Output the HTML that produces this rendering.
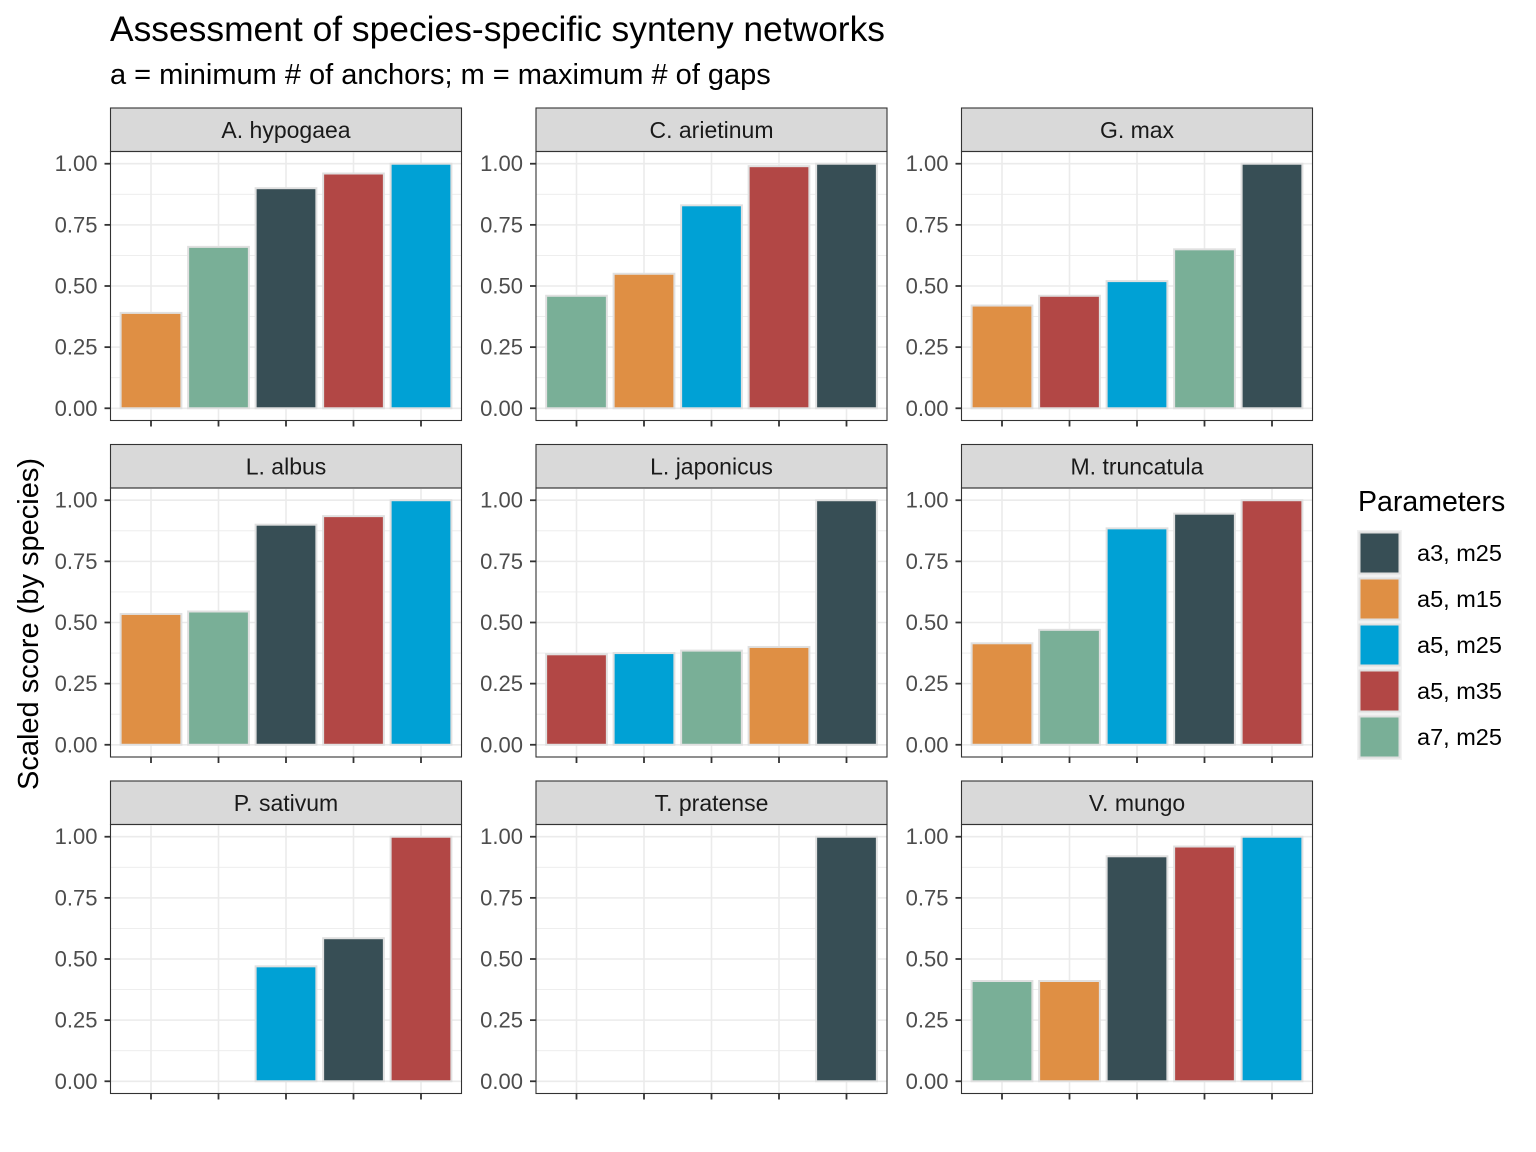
<!DOCTYPE html>
<html><head><meta charset="utf-8"><style>
html,body{margin:0;padding:0;background:#fff;}
svg{display:block;font-family:"Liberation Sans",Arial,sans-serif;}
</style></head><body>
<svg id="chart" width="1536" height="1152" xmlns="http://www.w3.org/2000/svg">
<text x="110" y="41" font-size="35.4px" fill="#000">Assessment of species-specific synteny networks</text>
<text x="110" y="84" font-size="29px" fill="#000">a = minimum # of anchors; m = maximum # of gaps</text>
<text transform="translate(38,624) rotate(-90)" text-anchor="middle" font-size="29px" fill="#000">Scaled score (by species)</text>
<g id="panels"></g>
<g id="legend"></g>
</svg>
<script>
const species = ["A. hypogaea","C. arietinum","G. max","L. albus","L. japonicus","M. truncatula","P. sativum","T. pratense","V. mungo"];
const paramNames = ["a3, m25","a5, m15","a5, m25","a5, m35","a7, m25"];
const paramColors = ["#374E55","#DF8F44","#00A1D5","#B24745","#79AF97"];
const barOrder = [
 [1,4,0,3,2],[4,1,2,3,0],[1,3,2,4,0],[1,4,0,3,2],[3,2,4,1,0],
 [1,4,2,0,3],[4,1,2,0,3],[4,1,2,3,0],[4,1,0,3,2]];
const barValues = [
 [0.39,0.66,0.90,0.96,1.00],
 [0.46,0.55,0.83,0.99,1.00],
 [0.42,0.46,0.52,0.65,1.00],
 [0.535,0.545,0.90,0.935,1.00],
 [0.37,0.375,0.385,0.40,1.00],
 [0.415,0.47,0.885,0.945,1.00],
 [0,0,0.47,0.585,1.00],
 [0,0,0,0,1.00],
 [0.41,0.41,0.92,0.96,1.00]];
const yTicks = [0,0.25,0.5,0.75,1];
const yTickLabels = ["0.00","0.25","0.50","0.75","1.00"];

const NS="http://www.w3.org/2000/svg";
function mk(tag,attrs,parent){const e=document.createElementNS(NS,tag);for(const k in attrs)e.setAttribute(k,attrs[k]);parent.appendChild(e);return e;}
const colX=[110.5,536,961.5], W=351;
const rowTop=[108,444.5,781], stripH=43.5, panelH=269;
const g=document.getElementById('panels');
species.forEach((sp,i)=>{
  const c=i%3,r=Math.floor(i/3);
  const x0=colX[c], sy=rowTop[r], py=sy+stripH;
  const y=v=>py+panelH-(v+0.05)/1.1*panelH;
  const xc=k=>x0+W*(0.6+k)/5.2;
  const bw=W/5.2*0.9;
  const pg=mk('g',{},g);
  
  
  const st=mk('rect',{x:x0,y:sy,width:W,height:stripH,fill:'#d9d9d9',stroke:'#333','stroke-width':1.1},pg);
  
  
  const stt=mk('text',{x:x0+W/2,y:sy+stripH/2+8,'text-anchor':'middle','font-size':'23px',fill:'#1a1a1a'},pg);
  stt.textContent=sp;
  
  
  for(let t=0.125;t<1.1;t+=0.25) mk('line',{x1:x0,x2:x0+W,y1:y(t),y2:y(t),stroke:'#ebebeb','stroke-width':0.8},pg);
  yTicks.forEach((t,j)=>{
    mk('line',{x1:x0,x2:x0+W,y1:y(t),y2:y(t),stroke:'#ebebeb','stroke-width':1.6},pg);
    mk('line',{x1:x0-6,x2:x0,y1:y(t),y2:y(t),stroke:'#333','stroke-width':1.8},pg);
    const tl=mk('text',{x:x0-13,y:y(t)+7.5,'text-anchor':'end','font-size':'22px',fill:'#4d4d4d'},pg);
    tl.textContent=yTickLabels[j];
    
    
  });
  for(let k=0;k<5;k++){
    mk('line',{x1:xc(k),x2:xc(k),y1:py,y2:py+panelH,stroke:'#ebebeb','stroke-width':1.6},pg);
    mk('line',{x1:xc(k),x2:xc(k),y1:py+panelH,y2:py+panelH+6,stroke:'#333','stroke-width':1.8},pg);
  }
  barValues[i].forEach((v,k)=>{
    const p=barOrder[i][k];
    const b=mk('rect',{x:xc(k)-bw/2,y:y(v),width:bw,height:Math.max(y(0)-y(v),0),fill:paramColors[p],stroke:'#e0e0e0','stroke-width':2},pg);
    
    
  });
  mk('rect',{x:x0,y:py,width:W,height:panelH,fill:'none',stroke:'#333','stroke-width':1.1},pg);
});
const lg=document.getElementById('legend');
const lt=mk('text',{x:1358,y:511,'font-size':'28.5px',fill:'#000'},lg);
lt.textContent='Parameters';


paramNames.forEach((n,j)=>{
  const ky=530+46*j;
  const e=mk('g',{},lg);
  
  
  mk('rect',{x:1357,y:ky,width:45,height:46,fill:'#f2f2f2'},e);
  mk('rect',{x:1359.5,y:ky+2.5,width:40,height:41,fill:paramColors[j],stroke:'#e0e0e0','stroke-width':2},e);
  const t=mk('text',{x:1417,y:ky+31,'font-size':'23.5px',fill:'#000'},e);
  t.textContent=n;
});
</script>
</body></html>
